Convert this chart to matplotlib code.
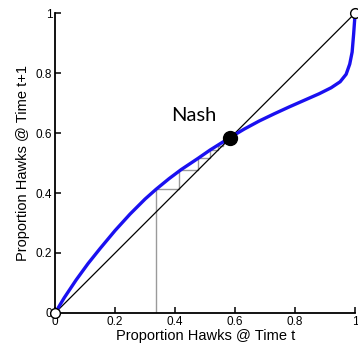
import matplotlib
matplotlib.use("Agg")
import matplotlib.pyplot as plt

# curve f(p): proportion of hawks at t+1 vs t
p_t = [0, 0.03, 0.07, 0.11, 0.15, 0.2, 0.25, 0.3, 0.336, 0.38, 0.42, 0.477, 0.516,
       0.583, 0.63, 0.68, 0.73, 0.78, 0.83, 0.88, 0.92, 0.95, 0.97, 0.982, 0.99, 0.995, 1.0]
p_t1 = [0, 0.05, 0.11, 0.165, 0.215, 0.275, 0.33, 0.38, 0.412, 0.448, 0.478, 0.516, 0.543,
        0.585, 0.613, 0.64, 0.664, 0.687, 0.709, 0.731, 0.751, 0.771, 0.796, 0.83, 0.87, 0.93, 1.0]

# successive iterates of the cobweb, starting at 1/3
iterates = [0.336, 0.412, 0.477, 0.516, 0.543, 0.558, 0.568]

nash = 0.583
ticks = [0, 0.2, 0.4, 0.6, 0.8, 1]
tick_labels = ["0", "0.2", "0.4", "0.6", "0.8", "1"]

fig = plt.figure(figsize=(3.58, 3.54), dpi=100)
ax = fig.add_axes([0.154, 0.116, 0.838, 0.847])

# cobweb
cx = [iterates[0]]
cy = [0]
for i in range(len(iterates) - 1):
    cx += [iterates[i], iterates[i + 1]]
    cy += [iterates[i + 1], iterates[i + 1]]
ax.plot(cx, cy, color="#9a9a9a", lw=1.0, zorder=1)

ax.plot([0, 1], [0, 1], color="black", lw=0.9, zorder=2)
ax.plot(p_t, p_t1, color="#1a10f0", lw=2.4, zorder=3, clip_on=False)

ax.plot([0, 1], [0, 1], "o", ms=7, mfc="white", mec="black", mew=1.0,
        ls="none", zorder=5, clip_on=False)
ax.plot([nash], [nash], "o", ms=10, color="black", zorder=6)
ax.text(0.462, 0.66, "Nash", fontsize=14.5, family="Lato", ha="center", va="center")

ax.set_xlim(0, 1)
ax.set_ylim(0, 1)
ax.set_xticks(ticks)
ax.set_xticklabels(tick_labels)
ax.set_yticks(ticks)
ax.set_yticklabels(tick_labels)
for s in ["top", "right"]:
    ax.spines[s].set_visible(False)
for s in ["left", "bottom"]:
    ax.spines[s].set_linewidth(1.3)
ax.tick_params(direction="in", length=4, width=1.1, labelsize=8.5, pad=2)
for lab in ax.get_xticklabels() + ax.get_yticklabels():
    lab.set_family("Liberation Sans")

ax.set_xlabel("Proportion Hawks @ Time t", fontsize=10.5, family="Liberation Sans", labelpad=1)
ax.set_ylabel("Proportion Hawks @ Time t+1", fontsize=10.5, family="Liberation Sans", labelpad=4)

fig.savefig("out.png", dpi=100)
